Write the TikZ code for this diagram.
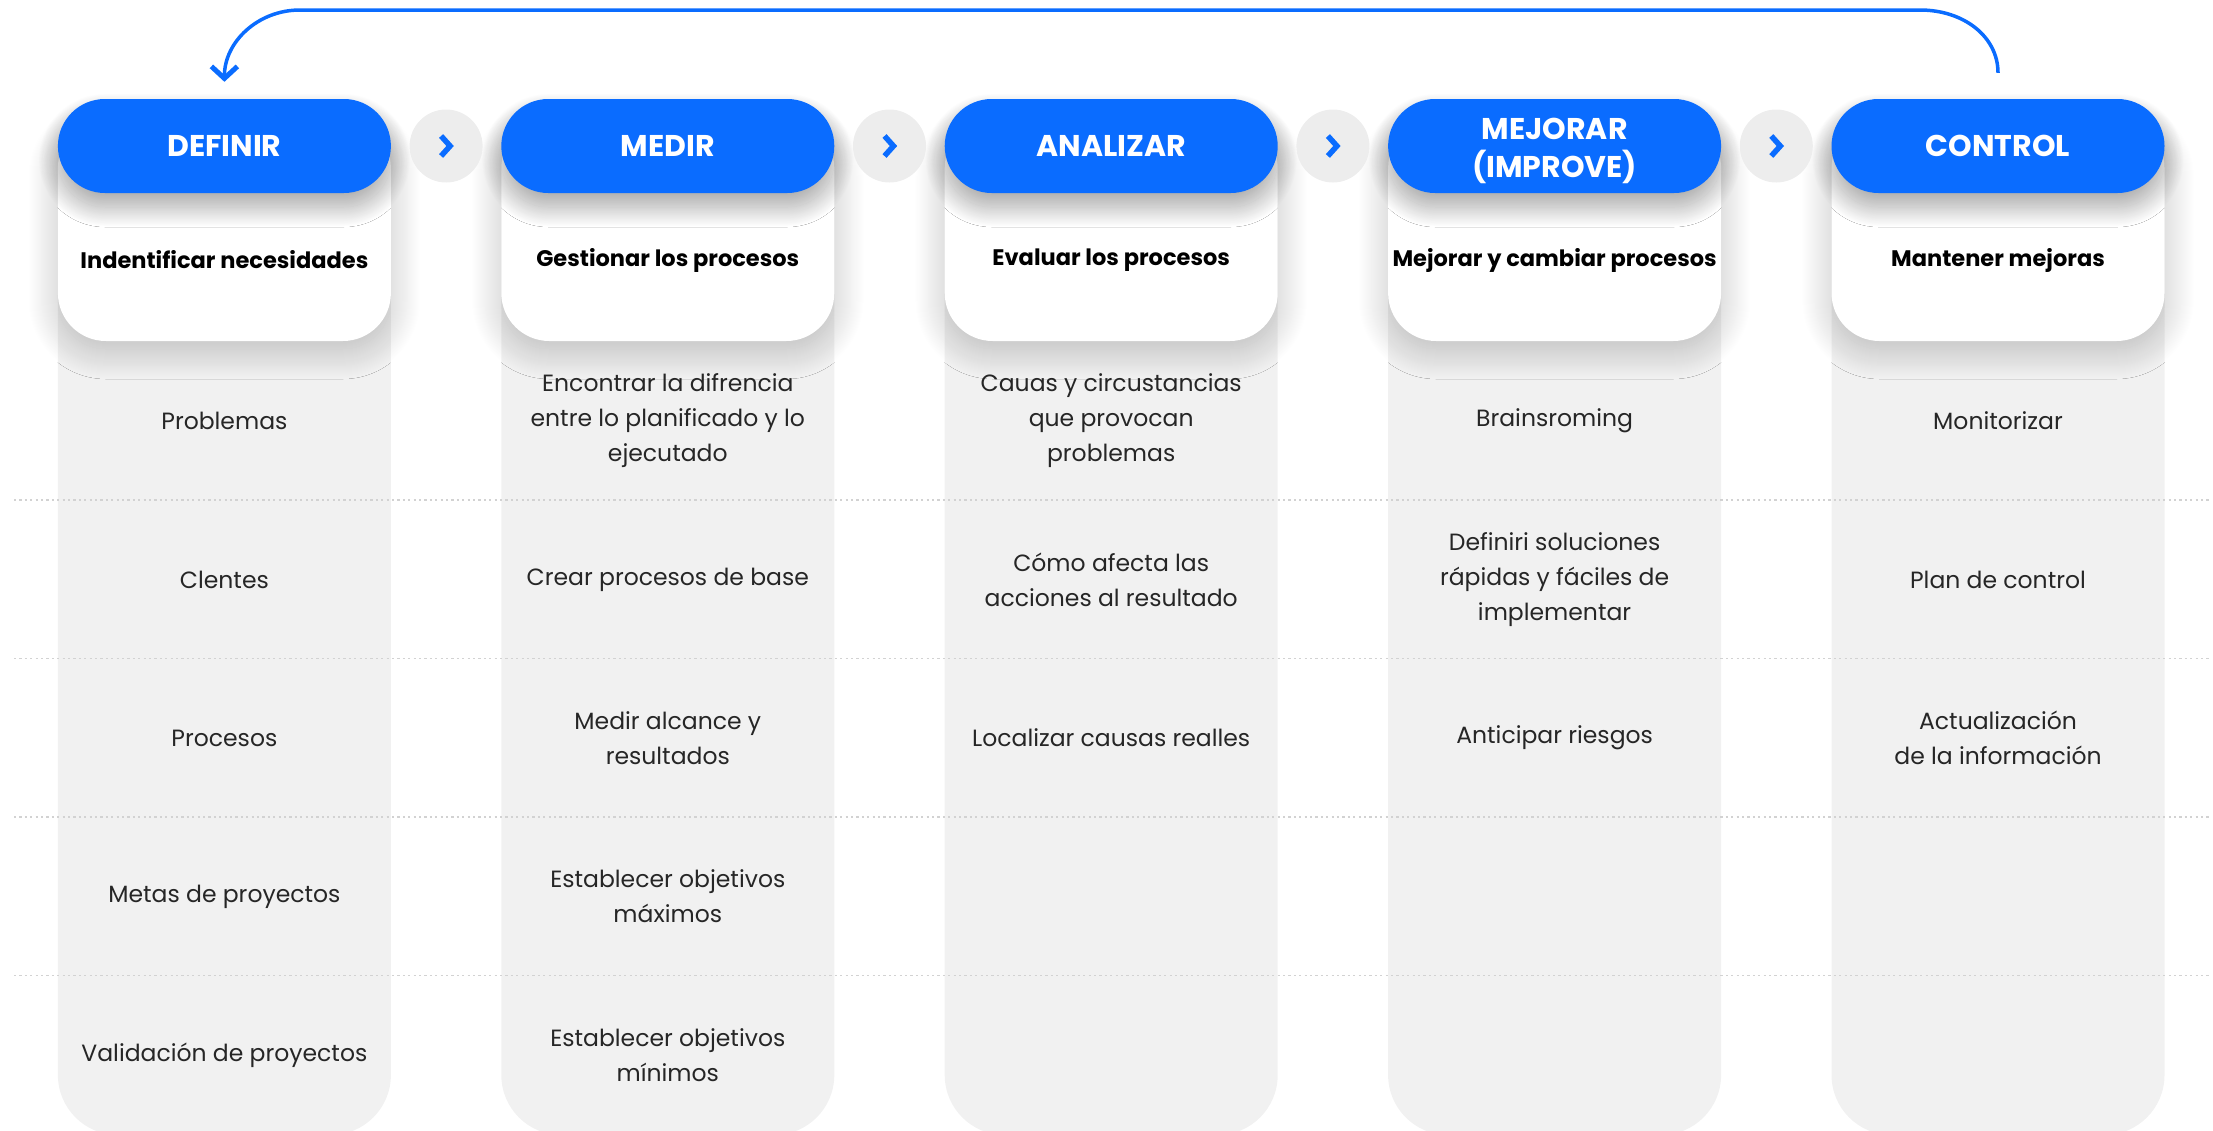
\documentclass[tikz,border=0pt]{standalone}
\usepackage{fontspec}
\setmainfont{Poppins}
\usetikzlibrary{calc,arrows.meta,shadows.blur}

\definecolor{mainblue}{HTML}{0A6CFF}
\definecolor{colgray}{HTML}{F1F1F1}
\definecolor{circgray}{HTML}{EDEDED}
\definecolor{sepgray}{HTML}{D2D2D2}
\definecolor{bodytext}{HTML}{262626}

\tikzset{
  column/.style={fill=colgray, rounded corners=60pt},
  card/.style={rectangle, fill=white, rounded corners=48pt,
    minimum width=333pt, minimum height=221pt, inner sep=0pt,
    blur shadow={shadow xshift=0pt, shadow yshift=-8pt,
      shadow blur radius=30pt, shadow blur steps=60, shadow opacity=24}},
  pill/.style={rectangle, fill=mainblue, rounded corners=47pt,
    minimum width=333pt, minimum height=94pt, inner sep=0pt,
    text=white, align=center,
    font=\fontsize{30}{38}\selectfont\bfseries,
    blur shadow={shadow xshift=0pt, shadow yshift=-14pt,
      shadow blur radius=20pt, shadow blur steps=50, shadow opacity=36}},
  subtitle/.style={font=\fontsize{22.5}{28}\selectfont\bfseries, text=black},
  item/.style={font=\fontsize{23.5}{35}\selectfont, text=bodytext,
    align=center, inner sep=0pt},
  stepcircle/.style={circle, fill=circgray, minimum size=73pt, inner sep=0pt},
  chev/.style={draw=mainblue, line width=5.5pt, miter limit=4},
  sep/.style={draw=sepgray, line width=1.5pt, dash pattern=on 2.2pt off 3.2pt},
  loop/.style={draw=mainblue, line width=3.5pt,
    -{Straight Barb[length=12pt,width=26pt,line width=5pt]}},
}

\begin{document}
\begin{tikzpicture}[x=1pt,y=-1pt]
\useasboundingbox (0,0) rectangle (2213,1130);
\clip (0,0) rectangle (2213,1130);

% grey columns behind each stage
\foreach \cx in {224.4,667.8,1111.2,1554.6,1998}{
  \path[column] (\cx-166.5,150) rectangle (\cx+166.5,1135);
}

% row separators
\foreach \sy in {500,658.5,817,975.5}{
  \draw[sep] (14,\sy) -- (2210,\sy);
}

% white cards with the stage goal
\node[card] (c1) at (224.4,230.5) {};
\node[card] (c2) at (667.8,230.5) {};
\node[card] (c3) at (1111.2,230.5) {};
\node[card] (c4) at (1554.6,230.5) {};
\node[card] (c5) at (1998,230.5) {};

% stage headers
\node[pill] (p1) at (224.4,146) {DEFINIR};
\node[pill] (p2) at (667.8,146) {MEDIR};
\node[pill] (p3) at (1111.2,146) {ANALIZAR};
\node[pill] (p4) at (1554.6,146) {};
\node[font=\fontsize{30}{38}\selectfont\bfseries, text=white, align=center]
  (p4t) at ($(p4.center)+(0,5)$) {MEJORAR\\(IMPROVE)};
\node[pill] (p5) at (1998,146) {CONTROL};

% chevrons between the stages
\foreach \i/\cx in {1/446.1,2/889.5,3/1332.9,4/1776.3}{
  \node[stepcircle] (ch\i) at (\cx,146) {};
  \draw[chev] ($(ch\i)+(-5,-10)$) -- ($(ch\i)+(4,0)$) -- ($(ch\i)+(-5,10)$);
}

% stage goals
\node[subtitle] (s1) at (224.4,260) {Indentificar necesidades};
\node[subtitle] (s2) at (667.8,260) {Gestionar los procesos};
\node[subtitle] (s3) at (1111.2,260) {Evaluar los procesos};
\node[subtitle] (s4) at (1554.6,260) {Mejorar y cambiar procesos};
\node[subtitle] (s5) at (1998,260) {Mantener mejoras};

% DEFINIR
\node[item] (d1) at (224.4,421) {Problemas};
\node[item] (d2) at (224.4,579.5) {Clentes};
\node[item] (d3) at (224.4,738) {Procesos};
\node[item] (d4) at (224.4,896.5) {Metas de proyectos};
\node[item] (d5) at (224.4,1055) {Validación de proyectos};

% MEDIR
\node[item] (m1) at (667.8,421) {Encontrar la difrencia\\entre lo planificado y lo\\ejecutado};
\node[item] (m2) at (667.8,579.5) {Crear procesos de base};
\node[item] (m3) at (667.8,738) {Medir alcance y\\resultados};
\node[item] (m4) at (667.8,896.5) {Establecer objetivos\\máximos};
\node[item] (m5) at (667.8,1055) {Establecer objetivos\\mínimos};

% ANALIZAR
\node[item] (a1) at (1111.2,421) {Cauas y circustancias\\que provocan\\problemas};
\node[item] (a2) at (1111.2,579.5) {Cómo afecta las\\acciones al resultado};
\node[item] (a3) at (1111.2,738) {Localizar causas realles};

% MEJORAR
\node[item] (i1) at (1554.6,421) {Brainsroming};
\node[item] (i2) at (1554.6,579.5) {Definiri soluciones\\rápidas y fáciles de\\implementar};
\node[item] (i3) at (1554.6,738) {Anticipar riesgos};

% CONTROL
\node[item] (k1) at (1998,421) {Monitorizar};
\node[item] (k2) at (1998,579.5) {Plan de control};
\node[item] (k3) at (1998,738) {Actualización\\de la información};

% feedback loop from CONTROL back to DEFINIR
\coordinate (ls) at ($(p5.north)+(0,-26)$);
\coordinate (le) at ($(p1.north)+(0,-17)$);
\coordinate (tr) at (1920,10);
\coordinate (tl) at (300,10);
\draw[loop] (ls) .. controls ($(ls)+(0,-36)$) and ($(tr)+(44,0)$) .. (tr)
  -- (tl) .. controls ($(tl)+(-42,0)$) and ($(le)+(0,-40)$) .. (le);
\end{tikzpicture}
\end{document}
